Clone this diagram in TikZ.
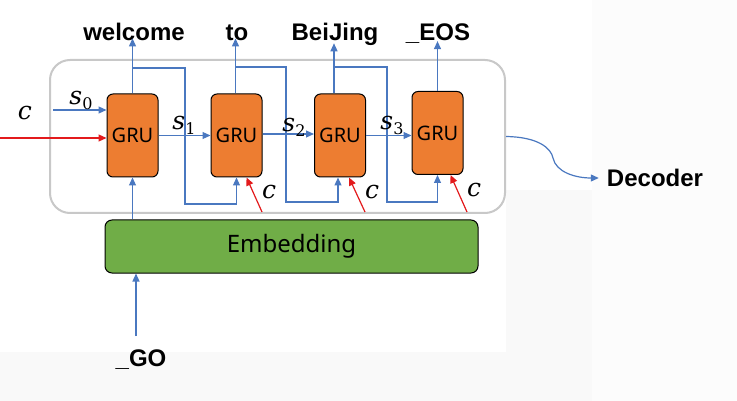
\documentclass[tikz,border=0pt]{standalone}
\usepackage{fontspec}
\setmainfont{Noto Sans}
\newfontfamily\wordfont{Liberation Sans}
\newfontfamily\mfont{DejaVu Serif}
\usetikzlibrary{arrows.meta,calc}
\definecolor{bl}{HTML}{4A78C0}
\definecolor{rd}{HTML}{E31A1C}
\definecolor{org}{HTML}{ED7D31}
\definecolor{grn}{HTML}{70AD47}
\definecolor{frame}{HTML}{C8C8C8}
\newcommand{\mysub}[2]{{\itshape #1}\raisebox{-5pt}{\fontsize{16}{16}\selectfont\upshape #2}}
\begin{document}
\begin{tikzpicture}[x=1pt,y=-1pt,
  gru/.style={draw=black,line width=1pt,fill=org,rounded corners=6pt,minimum width=51pt,minimum height=83pt,inner sep=0pt,font=\fontsize{20}{22}\selectfont},
  embbox/.style={draw=black,line width=1pt,fill=grn,rounded corners=7pt,minimum width=373pt,minimum height=53pt,inner sep=0pt,font=\fontsize{24}{26}\selectfont},
  outer/.style={draw=frame,line width=2pt,rounded corners=20pt,minimum width=455pt,minimum height=153pt,inner sep=0pt},
  word/.style={font=\wordfont\bfseries\fontsize{24}{28}\selectfont,inner sep=0pt},
  mlab/.style={font=\mfont\fontsize{25}{28}\selectfont,inner sep=0pt},
  barrow/.style={draw=bl,line width=1.2pt,-{Triangle[length=8pt,width=7pt]}},
  rarrow/.style={draw=rd,line width=1.2pt,-{Triangle[length=8pt,width=7pt]}}
]
\useasboundingbox (0,0) rectangle (737,401);
% background tones
\fill[white] (0,0) rectangle (737,401);
\fill[black!1.2] (592,0) rectangle (737,401);
\fill[black!2.5] (506,190) rectangle (592,401);
\fill[black!2.5] (0,352) rectangle (506,401);

\node[outer] (enc) at (277.5,136.5) {};

\node[gru] (g1) at (132.5,135.5) {GRU};
\node[gru] (g2) at (236.5,135.5) {GRU};
\node[gru] (g3) at (340,135.5) {GRU};
\node[gru] (g4) at (437.5,133) {GRU};

\node[embbox] (emb) at (291.5,246.5) {Embedding};

% output words
\node[word,anchor=base] (w1) at (134,41) {welcome};
\node[word,anchor=base] (w2) at (237,41) {to};
\node[word,anchor=base] (w3) at (335,41) {BeiJing};
\node[word,anchor=base] (w4) at (438,41) {\_EOS};

\draw[barrow] (g1.north) -- ([yshift=3pt]g1.north |- w1.south);
\draw[barrow] ([xshift=-1pt]g2.north) -- ([xshift=-1pt,yshift=3pt]g2.north |- w2.south);
\draw[barrow] ([xshift=-6pt]g3.north) -- ([xshift=-6pt,yshift=3pt]g3.north |- w3.south);
\draw[barrow] (g4.north) -- ([yshift=3pt]g4.north |- w4.south);

% feedback loops
\draw[barrow] (133,68) -| (185,204) -| (g2.south);
\draw[barrow] (235.5,67) -| (286,202) -| ([xshift=-2pt]g3.south);
\draw[barrow] (334,67) -| (387,202) -| (g4.south);

% red context arrows
\coordinate (r2) at (262,212);
\coordinate (r3) at (365,212);
\coordinate (r4) at (467,212);
\draw[rarrow] (r2) -- ([xshift=10pt]g2.south);
\draw[rarrow] (r3) -- ([xshift=9pt]g3.south);
\draw[rarrow] (r4) -- ([xshift=13pt]g4.south);
\node[mlab] (c2) at (269,192) {\itshape c};
\node[mlab] (c3) at (372,192) {\itshape c};
\node[mlab] (c4) at (474,190) {\itshape c};

% first GRU inputs
\coordinate (s0start) at (53,110);
\coordinate (cstart) at (0,138);
\draw[barrow] (s0start) -- (s0start -| g1.west);
\draw[rarrow] (cstart) -- (cstart -| g1.west);
\node[mlab] (s0) at (81,100) {\mysub{s}{0}};
\node[mlab] (c1) at (25,113) {\itshape c};

% state arrows
\draw[barrow] (g1.east) -- (g2.west);
\node[mlab] (s1) at (184,125) {\mysub{s}{1}};
\draw[barrow] ([yshift=1.5pt]g2.east) -- ([yshift=1.5pt]g3.west);
\node[mlab] (s2) at (294,127) {\mysub{s}{2}};
\draw[barrow] (g3.east) -- (g3.east -| g4.west);
\node[mlab] (s3) at (392,125) {\mysub{s}{3}};

% embedding to GRU
\draw[barrow] (emb.north -| g1) -- (g1.south);

% GO input
\node[word] (go) at (141,360) {\_GO};
\coordinate (goarr) at (136,336);
\draw[barrow] (goarr) -- (goarr |- emb.south);

% Decoder
\node[word] (dec) at (655,178) {Decoder};
\draw[barrow] (enc.east) .. controls (538,137) and (551,148) .. (553,158)
  .. controls (556,172) and (575,178) .. ([xshift=-8pt]dec.west);
\end{tikzpicture}
\end{document}
